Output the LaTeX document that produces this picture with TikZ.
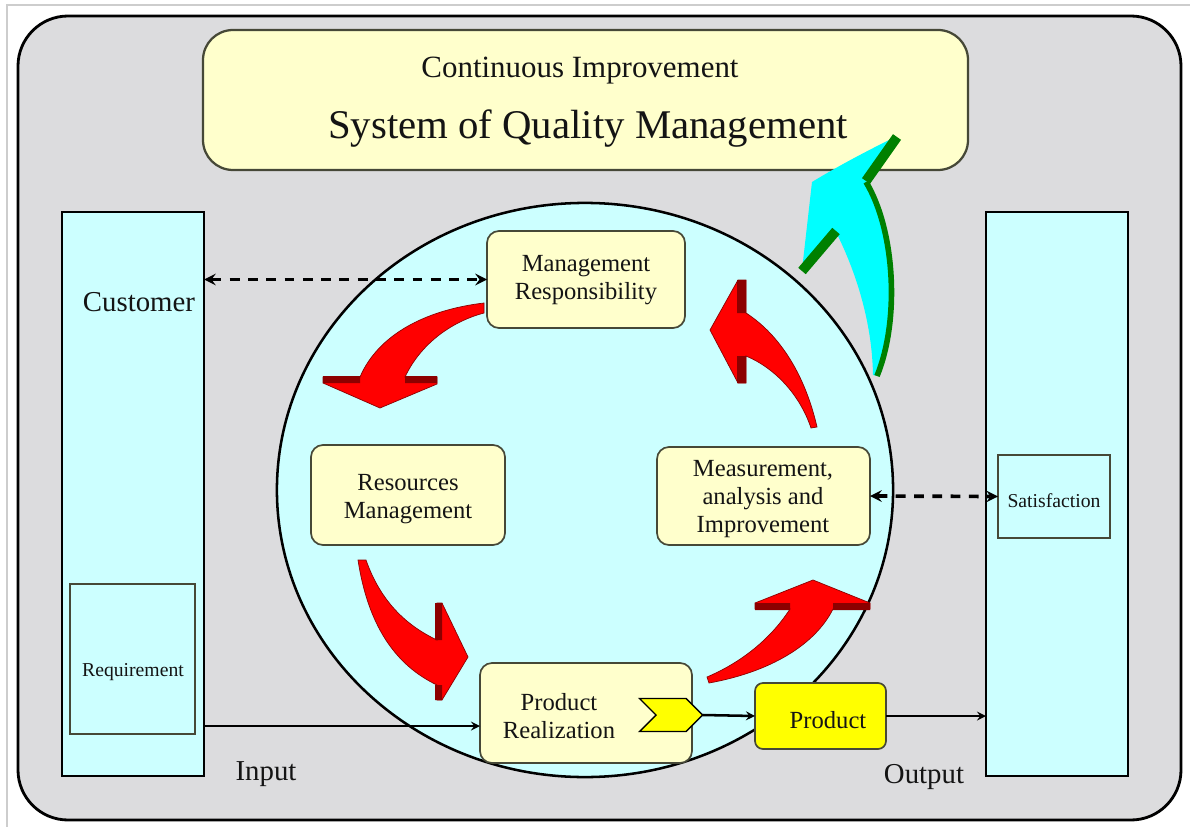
\documentclass[tikz,border=0pt]{standalone}
\usepackage{fontspec}
\setmainfont{Liberation Serif}
\usetikzlibrary{fit,shapes.symbols}

\definecolor{qmtext}{RGB}{20,20,20}
\definecolor{qmgray}{RGB}{220,220,222}
\definecolor{qmrule}{RGB}{205,205,205}
\definecolor{qmcyan}{RGB}{204,255,255}
\definecolor{qmcream}{RGB}{255,255,204}
\definecolor{qmedge}{RGB}{70,72,55}
\definecolor{qmred}{RGB}{255,0,0}
\definecolor{qmdarkred}{RGB}{140,0,0}
\definecolor{qmaqua}{RGB}{0,255,255}
\definecolor{qmgreen}{RGB}{0,128,0}
\definecolor{qmyellow}{RGB}{255,255,0}

\begin{document}
\begin{tikzpicture}[
  x=0.025cm,
  y=-0.025cm,
  >=stealth,
  every node/.style={inner sep=0pt, outer sep=0pt},
  qmTitle/.style={font=\fontsize{29}{32}\selectfont, text=qmtext},
  qmSub/.style={font=\fontsize{22}{24}\selectfont, text=qmtext},
  qmLabel/.style={font=\fontsize{17.5}{19.6}\selectfont, text=qmtext, align=center},
  qmSideText/.style={font=\fontsize{20.5}{22}\selectfont, text=qmtext},
  qmSmall/.style={font=\fontsize{14}{15}\selectfont, text=qmtext},
  qmOuter/.style={draw=black, fill=qmgray, line width=2pt, rounded corners=1.25cm},
  qmColumn/.style={draw=black, fill=qmcyan, line width=1.8pt},
  qmInner/.style={draw=qmedge, fill=qmcyan, line width=1pt},
  qmBox/.style={draw=qmedge, fill=qmcream, line width=1.2pt, rounded corners=0.3cm},
  qmMain/.style={draw=black, line width=1.8pt, ->},
  qmDash/.style={draw=black, line width=2.6pt, dash pattern=on 7pt off 6pt, <->},
  qmRed/.style={fill=qmred, draw=qmdarkred, line width=0.5pt},
  qmBar/.style={fill=qmdarkred}
]

  \path[use as bounding box] (0,0) rectangle (1190,827);
  \draw[qmrule, line width=0.8pt] (7,827) -- (7,5) -- (1190,5);

  \path[qmOuter] (18,16) rectangle (1181,820);

  % heading panel
  \node[qmBox, line width=1.6pt, rounded corners=0.75cm, fit={(203,30) (968,170)}] (system) {};
  \node[qmSub] (contImp) at (580,71) {Continuous Improvement};
  \node[qmTitle] (qmSystem) at (588,129) {System of Quality Management};

  % customer and output columns
  \node[qmColumn, fit={(62,212) (204,776)}] (customer) {};
  \node[qmSideText] (customerText) at (139,302) {Customer};
  \node[qmInner, fit={(70,584) (195,734)}] (require) {};
  \node[qmSmall] (requireText) at (133,672) {Requirement};

  \node[qmColumn, fit={(986,212) (1128,776)}] (output) {};
  \node[qmInner, fit={(998,455) (1110,538)}] (satisfy) {};
  \node[qmSmall] (satisfyText) at (1054,501) {Satisfaction};

  % process cycle
  \draw[fill=qmcyan, line width=1.8pt] (585,490) ellipse [x radius=7.7cm, y radius=7.175cm];

  \node[qmBox, fit={(487,231) (685,328)}] (resp) {};
  \node[qmLabel] (respText) at (586,280) {Management\\Responsibility};
  \node[qmBox, fit={(311,445) (505,545)}] (resource) {};
  \node[qmLabel] (resourceText) at (408,499) {Resources\\Management};
  \node[qmBox, fit={(657,447) (870,545)}] (measure) {};
  \node[qmLabel] (measureText) at (763,499) {Measurement,\\analysis and\\Improvement};
  \node[qmBox, fit={(480,663) (692,763)}] (realize) {};
  \node[qmLabel] (realizeText) at (559,716) {Product\\Realization};
  \node[signal, signal to=east, signal from=west, draw=black, fill=qmyellow, line width=1pt,
        minimum width=1.575cm, minimum height=0.825cm] (chev) at (671,715) {};
  \node[qmBox, fill=qmyellow, rounded corners=0.2cm, fit={(755,683) (886,749)}] (product) {};
  \node[qmLabel] (productText) at (828,720) {Product};

  \node[qmSideText] (inputText) at (266,774) {Input};
  \node[qmSideText] (outputText) at (924,777) {Output};

  % red cycle arrows
  \path[qmRed] (484,303) .. controls (425,310) and (378,335) .. (360,377) -- (323,377) -- (323,383)
    -- (380,408) -- (437,384) -- (437,377) -- (405,377) .. controls (420,345) and (450,322) .. (484,313) -- cycle;
  \fill[qmBar] (323,376) rectangle (360,383) (405,376) rectangle (437,383);

  \path[qmRed] (358,560) .. controls (368,625) and (395,665) .. (437,685) -- (437,700) -- (442,700)
    -- (468,657) -- (442,603) -- (437,603) -- (437,640) .. controls (405,625) and (380,600) .. (366,560) -- cycle;
  \fill[qmBar] (435,603) rectangle (442,640) (435,685) rectangle (442,700);

  \path[qmRed] (709,683) .. controls (770,672) and (815,645) .. (833,609) -- (870,609) -- (870,603)
    -- (813,580) -- (755,603) -- (755,609) -- (790,609) .. controls (770,640) and (740,663) .. (707,677) -- cycle;
  \fill[qmBar] (755,603) rectangle (790,610) (833,603) rectangle (870,610);

  \path[qmRed] (817,427) .. controls (805,375) and (780,335) .. (746,313) -- (746,280) -- (738,280)
    -- (710,330) -- (738,383) -- (746,383) -- (746,356) .. controls (775,368) and (800,395) .. (811,428) -- cycle;
  \fill[qmBar] (737,280) rectangle (746,313) (737,356) rectangle (746,383);

  % improvement arrow
  \fill[qmaqua] (873,375) .. controls (872,320) and (855,270) .. (836,232) -- (802,270) -- (812,182)
    .. controls (840,165) and (865,152) .. (895,137) -- (866,182) .. controls (895,230) and (900,320) .. (877,376) -- cycle;
  \draw[qmgreen, line width=7pt] (802,271) -- (836,231) (866,181) -- (897,137);
  \draw[qmgreen, line width=4pt] (866,182) .. controls (895,230) and (900,320) .. (877,376);

  % flows
  \coordinate (inRow) at (0,726);
  \draw[qmMain] (customer.east |- inRow) -- (realize.west |- inRow);
  \draw[qmMain] (chev.east) -- (product.west);
  \draw[qmMain] (product.east) -- (output.west |- product.east);
  \draw[qmDash] (customer.east |- resp.west) -- (resp.west);
  \draw[qmDash] (measure.east) -- (satisfy.west);

\end{tikzpicture}
\end{document}
